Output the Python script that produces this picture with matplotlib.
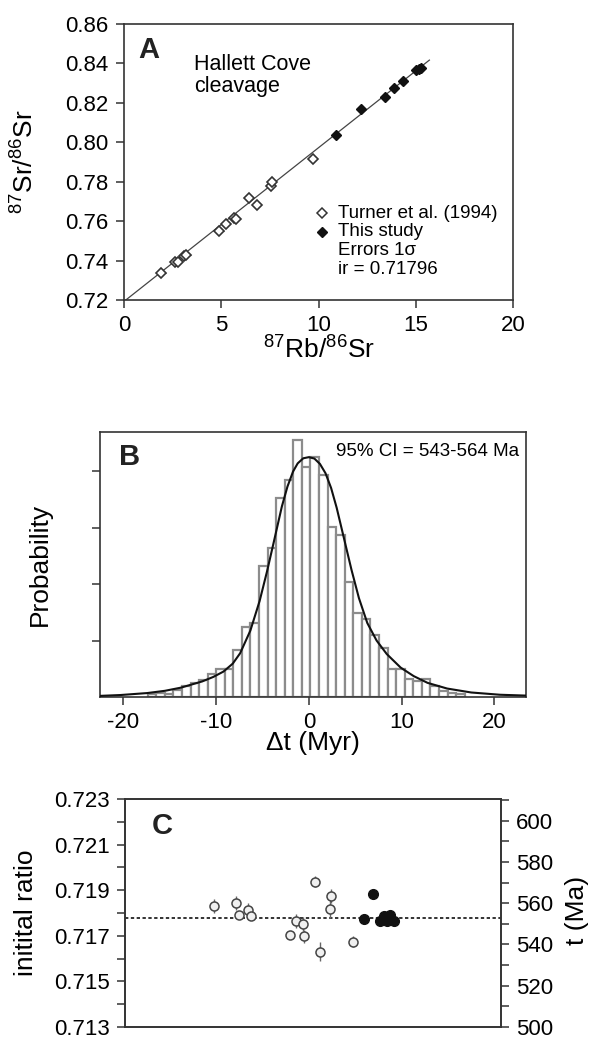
import numpy as np
import matplotlib
matplotlib.use("Agg")
import matplotlib.pyplot as plt
from matplotlib.ticker import MultipleLocator

plt.rcParams['font.family'] = ['Liberation Sans', 'DejaVu Sans']
plt.rcParams['mathtext.default'] = 'regular'

# === Panel A: Rb-Sr isochron data ===
turner_rb = [1.92, 2.63, 2.75, 3.09, 3.21, 4.90, 5.24, 5.64, 5.76, 6.43, 6.82, 7.54, 7.61, 9.71]
turner_sr = [0.7338, 0.7391, 0.7394, 0.7423, 0.7428, 0.7552, 0.7585, 0.7616, 0.7611,
             0.7717, 0.7684, 0.7780, 0.7798, 0.7917]
study_rb = [10.89, 12.18, 13.42, 13.90, 14.36, 15.03, 15.17, 15.29]
study_sr = [0.8035, 0.8169, 0.8230, 0.8274, 0.8309, 0.8367, 0.8373, 0.8378]
iso_x = [0.0, 15.7]
iso_y = [0.7193, 0.8417]

# === Panel B: age-difference histogram and probability curve ===
bin_start = -16.9   # centre of first bar (Myr)
bin_width = 0.923
hist_prob = [0.0011, 0.0014, 0.0011, 0.0025, 0.0039, 0.0050, 0.0060, 0.0081, 0.0099, 0.0099,
             0.0166, 0.0248, 0.0262, 0.0464, 0.0527, 0.0704, 0.0768, 0.0909, 0.0814, 0.0849,
             0.0786, 0.0602, 0.0573, 0.0407, 0.0297, 0.0276, 0.0219, 0.0173, 0.0099, 0.0099,
             0.0064, 0.0057, 0.0064, 0.0039, 0.0021, 0.0014, 0.0011]
curve_t = [-22.5, -20.3, -17.4, -15.5, -13.8, -11.5, -10.3, -9.2, -8.2, -7.4, -6.3, -5.3,
           -4.5, -3.8, -2.9, -2.3, -1.7, -1.2, -0.6, 0.0, 0.6, 1.2, 1.8, 2.4, 3.0, 3.8,
           4.6, 5.4, 6.3, 7.3, 8.4, 9.9, 11.3, 12.8, 14.9, 17.5, 20.6, 23.4]
curve_p = [0.0004, 0.0007, 0.0014, 0.0022, 0.0033, 0.0055, 0.0071, 0.0090, 0.0118, 0.0155,
           0.0235, 0.0340, 0.0445, 0.0545, 0.0675, 0.0745, 0.0798, 0.0827, 0.0845, 0.0849,
           0.0844, 0.0825, 0.0792, 0.0740, 0.0670, 0.0560, 0.0450, 0.0350, 0.0262, 0.0200,
           0.0152, 0.0104, 0.0074, 0.0050, 0.0030, 0.0016, 0.0008, 0.0005]

# === Panel C: initial ratios ===
open_x = [23.6, 29.4, 30.4, 32.6, 33.5, 44.0, 45.4, 47.3, 47.7, 50.5, 51.9, 54.7, 54.5, 60.5]
open_ir = [0.71830, 0.71845, 0.71790, 0.71815, 0.71785, 0.71704, 0.71765, 0.71752, 0.71697,
           0.71938, 0.71631, 0.71875, 0.71819, 0.71674]
open_err = [0.0003, 0.0003, 0.0001, 0.0003, 0.0001, 0.0001, 0.0003, 0.0003, 0.0003,
            0.00025, 0.0004, 0.0003, 0.0004, 0.00025]
filled_x = [63.5, 66.0, 67.9, 68.9, 69.8, 70.6, 71.5]
filled_ir = [0.71772, 0.71885, 0.71763, 0.71785, 0.71763, 0.71792, 0.71766]
ir_mean = 0.7178
ir_ticks = [0.713, 0.715, 0.717, 0.719, 0.721, 0.723]

spine_c = '#333333'
fig = plt.figure(figsize=(5.9, 10.4), dpi=100)

def style_box(ax):
    for s in ax.spines.values():
        s.set_color(spine_c)
        s.set_linewidth(1.2)
    ax.tick_params(direction='out', length=6, width=1.1, color=spine_c, labelsize=16, pad=5)

# ---- A ----
axA = fig.add_axes([0.2102, 0.7115, 0.6593, 0.2654])
axA.plot(iso_x, iso_y, color='#444444', lw=0.9, zorder=1)
axA.errorbar(turner_rb, turner_sr, xerr=0.22, yerr=0.0012, fmt='D', ms=5.5, mfc='white',
             mec='#333333', mew=1.2, ecolor='#555555', elinewidth=0.8, capsize=0, zorder=3)
axA.errorbar(study_rb, study_sr, xerr=0.22, yerr=0.0012, fmt='D', ms=5.5, mfc='#111111',
             mec='#111111', ecolor='#333333', elinewidth=0.8, capsize=0, zorder=3)
axA.set_xlim(0, 20)
axA.set_ylim(0.72, 0.86)
axA.xaxis.set_major_locator(MultipleLocator(5))
axA.yaxis.set_major_locator(MultipleLocator(0.02))
axA.yaxis.set_major_formatter(plt.FormatStrFormatter('%.2f'))
style_box(axA)
axA.set_xlabel('$^{87}$Rb/$^{86}$Sr', fontsize=19, va='center')
axA.xaxis.set_label_coords(0.5, -0.18)
axA.set_ylabel('$^{87}$Sr/$^{86}$Sr', fontsize=19, va='center')
axA.yaxis.set_label_coords(-0.254, 0.5)
axA.text(0.037, 0.905, 'A', transform=axA.transAxes, fontsize=21, fontweight='bold',
         va='center', ha='left', color='#222222')
axA.text(0.18, 0.855, 'Hallett Cove', transform=axA.transAxes, fontsize=15.5, va='center')
axA.text(0.18, 0.775, 'cleavage', transform=axA.transAxes, fontsize=15.5, va='center')
leg_x = 0.51
axA.plot([leg_x], [0.315], transform=axA.transAxes, marker='D', ms=5, mfc='white',
         mec='#333333', mew=1.1, ls='none')
axA.plot([leg_x], [0.247], transform=axA.transAxes, marker='D', ms=5, mfc='#111111',
         mec='#111111', ls='none')
for i, line in enumerate(['Turner et al. (1994)', 'This study', 'Errors 1σ', 'ir = 0.71796']):
    axA.text(leg_x + 0.04, 0.315 - 0.068 * i, line, transform=axA.transAxes,
             fontsize=13.5, va='center', ha='left')

# ---- B ----
axB = fig.add_axes([0.1695, 0.3298, 0.7220, 0.2548])
centers = bin_start + bin_width * np.arange(len(hist_prob))
axB.bar(centers, hist_prob, width=bin_width, color='white', edgecolor='#8c8c8c',
        linewidth=1.6, zorder=1)
axB.plot(curve_t, curve_p, color='#111111', lw=1.5, zorder=3)
axB.set_xlim(-22.5, 23.4)
axB.set_ylim(0, 0.0938)
axB.xaxis.set_major_locator(MultipleLocator(10))
axB.set_yticks([0.02, 0.04, 0.06, 0.08])
axB.set_yticklabels([])
style_box(axB)
axB.xaxis.set_major_formatter(plt.FuncFormatter(lambda v, p: f'{v:.0f}'))
axB.set_xlabel('Δt (Myr)', fontsize=19, va='center')
axB.xaxis.set_label_coords(0.5, -0.175)
axB.set_ylabel('Probability', fontsize=19, va='center')
axB.yaxis.set_label_coords(-0.141, 0.5)
axB.text(0.045, 0.905, 'B', transform=axB.transAxes, fontsize=21, fontweight='bold',
         va='center', ha='left', color='#222222')
axB.text(0.985, 0.925, '95% CI = 543-564 Ma', transform=axB.transAxes, fontsize=13.5,
         va='center', ha='right')

# ---- C ----
axC = fig.add_axes([0.2119, 0.0125, 0.6373, 0.2192])
axC.axhline(ir_mean, color='#111111', lw=1.2, ls=(0, (2, 1.5)), zorder=1)
axC.errorbar(open_x, open_ir, yerr=open_err, fmt='o', ms=6.5, mfc='#f0f0f0', mec='#444444',
             mew=1.1, ecolor='#666666', elinewidth=1.0, capsize=0, zorder=3)
axC.plot(filled_x, filled_ir, 'o', ms=7, color='#111111', zorder=4)
axC.set_xlim(0, 100)
axC.set_ylim(0.713, 0.723)
axC.set_xticks([])
axC.set_yticks(ir_ticks)
axC.yaxis.set_minor_locator(MultipleLocator(0.001))
axC.yaxis.set_major_formatter(plt.FormatStrFormatter('%.3f'))
style_box(axC)
axC.tick_params(which='minor', direction='out', length=6, width=1.1, color=spine_c)
axC.set_ylabel('initital ratio', fontsize=19, va='center')
axC.yaxis.set_label_coords(-0.263, 0.5)
axC.text(0.07, 0.88, 'C', transform=axC.transAxes, fontsize=21, fontweight='bold',
         va='center', ha='left', color='#222222')

axT = axC.twinx()
axT.set_ylim(500, 610.5)
axT.yaxis.set_major_locator(MultipleLocator(20))
axT.yaxis.set_minor_locator(MultipleLocator(10))
style_box(axT)
axT.tick_params(which='minor', direction='out', length=6, width=1.1, color=spine_c)
axT.set_ylabel('t (Ma)', fontsize=19, va='center', rotation=90)
axT.yaxis.set_label_coords(1.202, 0.513)

fig.savefig('out.png', dpi=100)
